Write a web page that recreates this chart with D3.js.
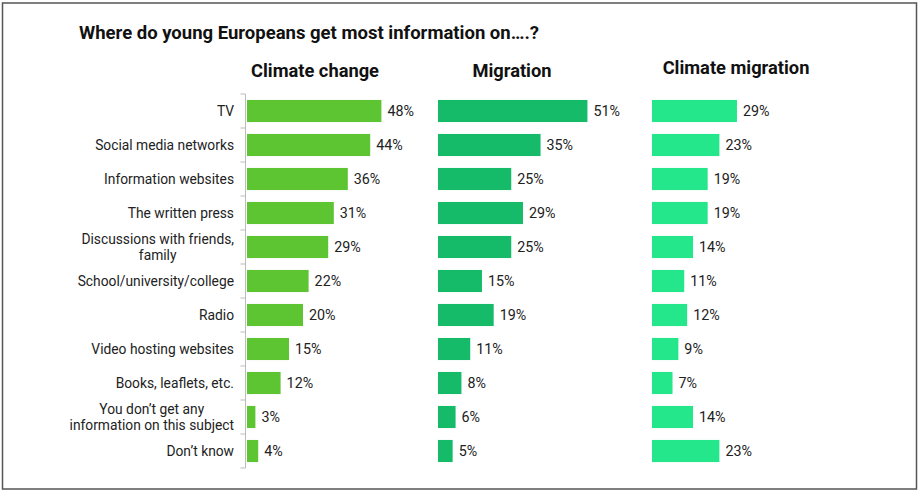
<!DOCTYPE html>
<html>
<head>
<meta charset="utf-8">
<script src="https://cdn.jsdelivr.net/npm/d3@7"></script>
<style>
  body { margin: 0; background: #fff; }
  svg { display: block; font-family: Roboto, "Noto Sans", sans-serif; }
</style>
</head>
<body>
<svg width="921" height="492" viewBox="0 0 921 492"></svg>
<script>
// data
var categories = [
  "TV",
  "Social media networks",
  "Information websites",
  "The written press",
  "Discussions with friends,|family",
  "School/university/college",
  "Radio",
  "Video hosting websites",
  "Books, leaflets, etc.",
  "You don\u2019t get any|information on this subject",
  "Don\u2019t know"
];
var climateChange = [48, 44, 36, 31, 29, 22, 20, 15, 12, 3, 4];
var migration = [51, 35, 25, 29, 25, 15, 19, 11, 8, 6, 5];
var climateMigration = [29, 23, 19, 19, 14, 11, 12, 9, 7, 14, 23];
var panelTitles = ["Climate change", "Migration", "Climate migration"];

var svg = d3.select("svg");

// outer frame
svg.append("rect")
  .attr("x", 2.5).attr("y", 3)
  .attr("width", 914).attr("height", 486)
  .attr("fill", "none")
  .attr("stroke", "#555")
  .attr("stroke-width", 1.5);

svg.append("text")
  .attr("x", 79).attr("y", 39)
  .attr("font-size", 18.5)
  .attr("font-weight", "bold")
  .attr("fill", "#111")
  .text("Where do young Europeans get most information on\u2026.?");

// rows, shared by all three panels
var y = d3.scaleBand()
  .domain(categories)
  .range([94, 468])
  .paddingInner(0.35)
  .paddingOuter(0.175);

var panels = [
  {title: panelTitles[0], values: climateChange, x0: 247, pxPerPct: 2.8, color: "#5dc531", titleX: 315, titleY: 77},
  {title: panelTitles[1], values: migration, x0: 438, pxPerPct: 2.93, color: "#15bb69", titleX: 512, titleY: 77},
  {title: panelTitles[2], values: climateMigration, x0: 652, pxPerPct: 2.93, color: "#24e68a", titleX: 736, titleY: 74}
];

panels.forEach(function(p) {
  var x = d3.scaleLinear().domain([0, 50]).range([p.x0, p.x0 + 50 * p.pxPerPct]);
  var g = svg.append("g");

  g.append("text")
    .attr("x", p.titleX).attr("y", p.titleY)
    .attr("text-anchor", "middle")
    .attr("font-size", 18.3)
    .attr("font-weight", "bold")
    .attr("fill", "#111")
    .text(p.title);

  g.selectAll("rect.bar")
    .data(p.values)
    .join("rect")
    .attr("class", "bar")
    .attr("x", x(0))
    .attr("y", function(d, i) { return y(categories[i]); })
    .attr("width", function(d) { return x(d) - x(0); })
    .attr("height", y.bandwidth())
    .attr("fill", p.color);

  g.selectAll("text.val")
    .data(p.values)
    .join("text")
    .attr("class", "val")
    .attr("x", function(d) { return x(d) + 6; })
    .attr("y", function(d, i) { return y(categories[i]) + y.bandwidth() / 2; })
    .attr("dy", "0.35em")
    .attr("font-size", 14.3)
    .attr("fill", "#222")
    .text(function(d) { return d + "%"; });
});

// category axis on the first panel only
var axisX = 245.5;
var step = y.step();
var boundaries = d3.range(categories.length + 1).map(function(i) { return 94 + i * step; });

var axis = svg.append("g");
axis.append("line")
  .attr("x1", axisX).attr("x2", axisX)
  .attr("y1", 94).attr("y2", 468)
  .attr("stroke", "#bbb");
axis.selectAll("line.tick")
  .data(boundaries)
  .join("line")
  .attr("class", "tick")
  .attr("x1", axisX - 5).attr("x2", axisX)
  .attr("y1", function(d) { return d; })
  .attr("y2", function(d) { return d; })
  .attr("stroke", "#bbb");

var labelRight = 234;
categories.forEach(function(c) {
  var lines = c.split("|");
  var cy = y(c) + y.bandwidth() / 2;
  var t = svg.append("text")
    .attr("font-size", 13.8)
    .attr("fill", "#222");
  if (lines.length === 1) {
    t.attr("x", labelRight).attr("y", cy).attr("dy", "0.35em")
      .attr("text-anchor", "end").text(c);
  } else {
    // multi-line labels are centred on their widest line, right edge at labelRight
    var spans = lines.map(function(l, i) {
      return t.append("tspan").attr("y", cy + (i - 0.5) * 16).attr("dy", "0.35em").text(l);
    });
    var w = d3.max(spans, function(s) { return s.node().getComputedTextLength(); });
    t.attr("text-anchor", "middle");
    spans.forEach(function(s) { s.attr("x", labelRight - w / 2); });
  }
});
</script>
</body>
</html>
